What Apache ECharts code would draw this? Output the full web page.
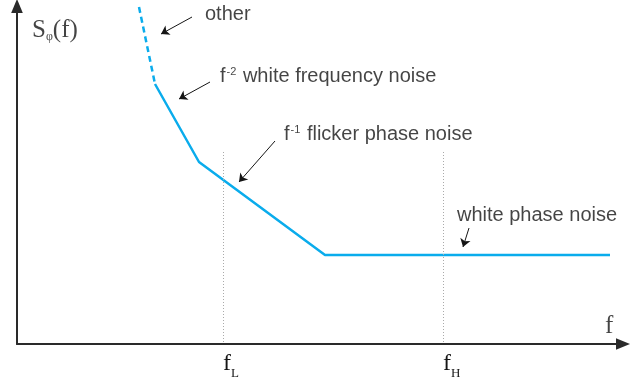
<!DOCTYPE html>
<html>
<head>
<meta charset="utf-8">
<script src="https://cdn.jsdelivr.net/npm/echarts@6/dist/echarts.min.js"></script>
<style>html,body{margin:0;padding:0;background:#fff}#c{width:643px;height:385px}</style>
</head>
<body>
<div id="c"></div>
<script>
// Schematic frequency axis (arbitrary units) and level axis (arbitrary units)
var otherSegment = [[122, 337], [138, 260]];
var noiseCurve = [[138, 260], [182, 182], [308, 89], [593, 89]];
var cornerFreqs = [206, 426];          // f_L, f_H
var cornerLabels = ['L', 'H'];
var cornerLineTop = 192;
// annotation texts: [x, y, text]
var notes = [
  [188, 330, '{t|other}'],
  [203, 268, '{t|f}{sup|-2}{t| white frequency noise}'],
  [267, 210, '{t|f}{sup|-1}{t| flicker phase noise}'],
  [440, 129, '{t|white phase noise}']
];
// annotation arrows: [fromX, fromY, toX, toY]
var pointers = [
  [175, 327, 144, 310],
  [193, 262, 162, 245],
  [258, 203, 222, 162],
  [452, 116, 446, 97]
];
var yTitle = [15, 314];
var xTitle = [588, 18];

var chart = echarts.init(document.getElementById('c'), null, {renderer: 'canvas'});
var blue = '#0AACEC';
var ink = '#151515';
var sans = 'Liberation Sans, Arial, sans-serif';
var serif = 'Liberation Serif, Times New Roman, serif';

var noteData = notes.map(function (n) {
  return {value: [n[0], n[1]], label: {formatter: n[2]}};
});
noteData.push({value: yTitle, label: {formatter: '{S|S}{sub|φ}{S|(f)}'}});
noteData.push({value: xTitle, label: {formatter: '{S|f}'}});

var axisLineStyle = {show: true, symbol: ['none', 'path://M0,0 L10,0 L5,-12 Z'], symbolSize: [12, 14],
  lineStyle: {color: '#2a2a2a', width: 2}};

option = {
  animation: false,
  grid: {left: 17, right: 20, top: 6, bottom: 41},
  xAxis: {
    type: 'value', min: 0, max: 606,
    splitLine: {show: false}, axisTick: {show: false},
    axisLine: axisLineStyle,
    axisLabel: {
      show: true, customValues: cornerFreqs, align: 'left', margin: 8,
      formatter: function (v) {
        var i = cornerFreqs.indexOf(v);
        return '{f|f}{sub|' + cornerLabels[i] + '}';
      },
      rich: {
        f: {fontFamily: serif, fontSize: 24, color: ink, verticalAlign: 'top', padding: [0, 0, 4, 0]},
        sub: {fontFamily: serif, fontSize: 13, color: ink, verticalAlign: 'bottom'}
      }
    }
  },
  yAxis: {
    type: 'value', min: 0, max: 338,
    splitLine: {show: false}, axisTick: {show: false}, axisLabel: {show: false},
    axisLine: axisLineStyle
  },
  series: [
    {
      type: 'line', data: otherSegment, symbol: 'none', silent: true,
      lineStyle: {color: blue, width: 2.5, type: [6, 4]},
      markLine: {
        silent: true, symbol: ['none', 'arrow'], symbolSize: 8,
        label: {show: false},
        lineStyle: {color: ink, width: 1, type: 'solid'},
        data: pointers.map(function (p) {
          return [{coord: [p[0], p[1]]}, {coord: [p[2], p[3]]}];
        })
      }
    },
    {
      type: 'line', data: noiseCurve, symbol: 'none', silent: true, z: 3,
      lineStyle: {color: blue, width: 2.5},
      markLine: {
        silent: true, symbol: ['none', 'none'], label: {show: false},
        lineStyle: {color: '#aaa', width: 1, type: [1, 2]},
        data: cornerFreqs.map(function (x) {
          return [{coord: [x, cornerLineTop]}, {coord: [x, 0]}];
        })
      }
    },
    {
      type: 'scatter', data: noteData, symbolSize: 0, silent: true,
      label: {
        show: true, position: 'right', distance: 0,
        rich: {
          t: {fontFamily: sans, fontSize: 20, color: ink},
          sup: {fontFamily: sans, fontSize: 11, color: ink, verticalAlign: 'top', padding: [0, 1, 0, 1]},
          S: {fontFamily: serif, fontSize: 25, color: ink},
          sub: {fontFamily: serif, fontSize: 12, color: ink, verticalAlign: 'bottom'}
        }
      }
    }
  ]
};
chart.setOption(option);
</script>
</body>
</html>
